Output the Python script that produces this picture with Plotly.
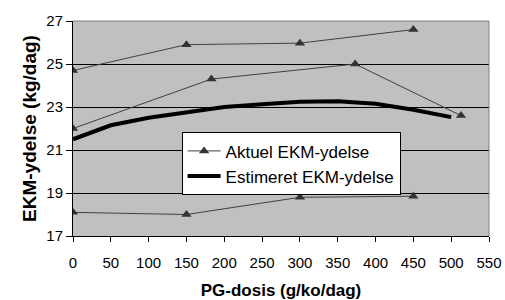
import plotly.graph_objects as go

# Aktuel EKM-ydelse (three observed series)
dose_a = [0, 150, 300, 450]
yield_a = [24.7, 25.9, 25.97, 26.6]
dose_b = [0, 183, 373, 513]
yield_b = [22.0, 24.3, 25.0, 22.6]
dose_c = [0, 150, 300, 450]
yield_c = [18.1, 18.0, 18.8, 18.85]

# Estimeret EKM-ydelse
dose_est = [0, 50, 100, 150, 200, 250, 300, 350, 400, 450, 500]
yield_est = [21.5, 22.15, 22.5, 22.75, 23.0, 23.13, 23.25, 23.27, 23.15, 22.87, 22.53]

x_ticks = list(range(0, 551, 50))
y_ticks = [17, 19, 21, 23, 25, 27]

name_act = "Aktuel EKM-ydelse"
name_est = "Estimeret EKM-ydelse"

fig = go.Figure()
for i, (xs, ys) in enumerate([(dose_a, yield_a), (dose_b, yield_b), (dose_c, yield_c)]):
    fig.add_trace(go.Scatter(
        x=xs, y=ys, mode="lines+markers", name=name_act,
        legendgroup="act", showlegend=(i == 0),
        line=dict(color="#404040", width=1),
        marker=dict(symbol="triangle-up", size=9, color="#333333"),
    ))
fig.add_trace(go.Scatter(
    x=dose_est, y=yield_est, mode="lines", name=name_est,
    line=dict(color="black", width=4),
))

FONT = "Liberation Sans, Arial, sans-serif"
tickfont = dict(family=FONT, size=15, color="black")

fig.update_layout(
    width=505, height=300,
    margin=dict(l=73, r=16, t=21, b=64),
    paper_bgcolor="white",
    plot_bgcolor="#c0c0c0",
    font=dict(family=FONT, color="black"),
    xaxis=dict(
        range=[0, 550], tickvals=x_ticks, ticktext=[str(v) for v in x_ticks],
        showgrid=False, zeroline=False, automargin=False,
        showline=True, linecolor="black", linewidth=1,
        ticks="outside", ticklen=5, tickcolor="black",
        ticklabelstandoff=8,
        tickfont=tickfont,
        title=dict(text="PG-dosis (g/ko/dag)",
                   font=dict(family=FONT, size=17, color="black", weight="bold"),
                   standoff=14),
    ),
    yaxis=dict(
        range=[17, 27], tickvals=y_ticks, ticktext=[str(v) for v in y_ticks],
        showgrid=True, gridcolor="black", gridwidth=1,
        zeroline=False, automargin=False,
        showline=True, linecolor="black", linewidth=1,
        ticks="outside", ticklen=6, tickcolor="black",
        tickfont=tickfont,
        title=dict(text="EKM-ydelse (kg/dag)",
                   font=dict(family=FONT, size=19, color="black", weight="bold"),
                   standoff=4),
    ),
    legend=dict(
        x=0.261, y=0.482, xanchor="left", yanchor="top",
        bgcolor="white", bordercolor="black", borderwidth=1,
        font=dict(family=FONT, size=17, color="black"),
        tracegroupgap=0, itemwidth=33,
    ),
    shapes=[
        dict(type="line", xref="paper", yref="paper", x0=0, x1=1, y0=1, y1=1,
             line=dict(color="#808080", width=1), layer="above"),
        dict(type="line", xref="paper", yref="paper", x0=1, x1=1, y0=0, y1=1,
             line=dict(color="#808080", width=1), layer="above"),
    ],
)

fig.write_html(
    "out.html",
    config={"displayModeBar": False},
    post_script="document.body.style.margin='0';document.body.style.padding='0';",
)
